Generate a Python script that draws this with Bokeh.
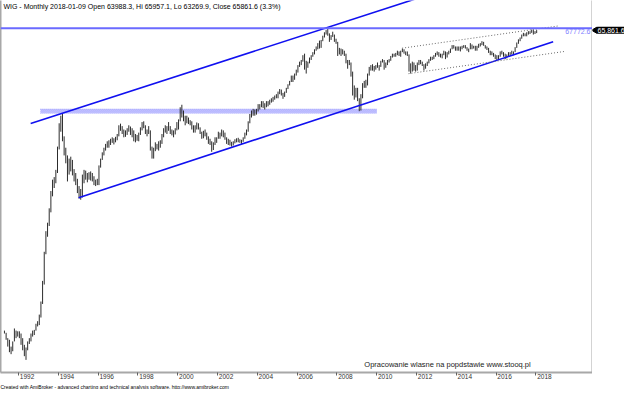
import pandas as pd
from bokeh.plotting import figure
from bokeh.layouts import row
from bokeh.models import (Range1d, FixedTicker, LinearAxis, Label, Span, ColumnDataSource, Title)
from bokeh.embed import file_html
from bokeh.resources import INLINE

# ---------------- data ----------------
first_month = "1991-04"

monthly_high = [
    1000, 970, 900, 880, 800, 860, 1030, 1000, 990,                                    # 1991 Apr-Dec
    990, 960, 900, 820, 790, 860, 900, 960, 1000, 1010, 1100, 1140,                    # 1992
    1250, 1500, 2000, 3000, 4000, 4500, 5500, 7000, 8200, 8500, 9400, 13000,          # 1993
    18000, 20000, 20760, 15000, 12800, 11500, 11000, 11300, 10800, 9500, 9000, 8300,  # 1994
    7500, 7200, 8800, 9400, 9300, 9000, 9100, 9200, 9000, 8600, 8200, 8300,           # 1995
    10000, 11000, 12000, 12800, 13500, 14000, 14200, 14500, 14800, 14600, 14900, 15500,  # 1996
    17500, 17900, 17300, 16500, 16300, 16800, 17500, 17200, 16800, 16300, 15500, 15300,  # 1997
    15800, 17000, 18300, 18500, 17500, 16500, 17300, 16300, 13000, 12800, 13800, 13500,  # 1998
    14000, 14200, 15500, 16800, 17500, 17300, 18300, 17300, 16500, 16300, 16800, 18300,  # 1999
    19000, 22500, 23300, 21500, 20000, 20000, 19500, 18800, 18500, 17500, 17500, 18200,  # 2000
    18000, 17000, 16000, 16200, 16500, 15800, 15000, 14500, 14000, 13800, 14800, 14800,  # 2001
    16000, 15800, 16500, 16300, 15800, 14800, 14500, 14300, 13900, 14000, 14400, 14600,  # 2002
    14700, 14400, 14300, 14800, 15800, 16500, 18500, 20500, 21500, 22000, 21800, 22000,  # 2003
    23500, 23500, 24500, 24500, 23800, 24500, 24500, 25000, 25500, 26000, 26500, 27000,  # 2004
    28000, 29000, 28800, 27500, 28000, 29500, 31000, 32500, 35000, 35000, 36000, 38000,  # 2005
    40500, 42500, 43500, 46500, 47500, 43000, 42500, 45000, 46500, 48500, 50500, 52500,  # 2006
    55000, 57000, 57500, 61000, 64000, 66000, 67772, 63000, 61500, 64500, 62000, 58500,  # 2007
    56000, 51500, 51000, 50500, 49500, 47500, 43500, 43500, 42000, 37000, 30500, 29500,  # 2008
    29500, 25500, 27000, 31500, 32500, 33000, 36000, 39500, 40500, 41000, 40000, 40500,  # 2009
    42000, 40500, 43000, 44000, 43500, 42000, 43500, 44000, 46000, 47500, 47500, 48000,  # 2010
    49500, 49000, 49500, 51000, 50500, 49000, 49000, 47000, 41500, 42500, 42000, 40500,  # 2011
    42000, 43500, 43500, 42500, 41000, 41500, 42500, 44000, 45500, 45500, 46500, 48000,  # 2012
    49000, 48500, 47500, 47500, 49500, 49000, 48500, 49500, 51000, 53500, 53500, 52500,  # 2013
    52500, 52500, 52500, 53000, 53500, 53500, 52000, 51000, 55000, 54000, 53000, 53000,  # 2014
    53000, 54500, 55000, 56500, 56000, 53500, 52500, 51500, 49500, 49000, 48000, 47000,  # 2015
    46500, 46500, 49000, 49500, 48500, 47500, 47000, 48500, 48500, 49500, 49000, 52000,  # 2016
    55500, 58000, 59500, 62000, 63500, 63000, 64000, 65000, 65000, 66500, 66000, 65000,  # 2017
    65957.1,                                                                            # 2018 Jan
]

monthly_low = [
    960, 880, 800, 740, 720, 750, 860, 900, 920,                                        # 1991 Apr-Dec
    900, 820, 760, 700, 665, 760, 830, 860, 920, 940, 1000, 1060,                      # 1992
    1080, 1200, 1450, 1900, 2900, 3700, 4300, 5200, 6500, 7300, 7800, 9000,            # 1993
    12500, 16000, 14000, 11500, 10300, 8000, 8800, 9200, 8700, 8000, 7600, 6800,       # 1994
    6300, 6200, 6400, 7800, 8200, 7900, 8200, 8100, 8000, 7600, 7500, 7600,            # 1995
    7600, 9700, 10800, 11500, 12300, 12800, 12800, 13300, 13700, 13400, 13800, 14200,  # 1996
    15000, 16200, 15500, 14800, 14900, 15300, 16000, 15300, 14800, 14000, 13800, 14100,  # 1997
    14000, 15300, 16300, 16800, 15500, 15000, 15500, 12300, 11000, 11000, 12200, 12500,  # 1998
    12300, 12800, 13500, 14800, 15800, 15500, 16200, 15500, 15200, 14800, 15400, 16300,  # 1999
    16500, 18500, 19500, 18500, 17500, 18000, 17800, 17500, 16500, 15800, 15800, 16500,  # 2000
    16500, 15500, 14500, 14600, 15000, 14300, 13500, 13300, 12100, 12400, 13300, 13700,  # 2001
    14500, 14500, 15000, 14800, 14300, 13500, 13300, 13200, 13000, 13200, 13600, 13800,  # 2002
    13800, 13700, 13500, 13900, 14500, 15200, 16000, 18000, 19500, 20000, 20000, 20300,  # 2003
    21200, 21800, 22500, 22300, 21800, 22500, 22800, 23300, 24000, 24300, 25000, 25500,  # 2004
    25500, 27000, 26500, 25300, 26000, 27500, 29000, 30500, 32000, 32000, 33000, 35000,  # 2005
    36500, 39500, 40500, 42500, 38000, 36000, 39000, 41500, 43500, 45500, 47000, 49500,  # 2006
    50500, 51000, 51500, 56500, 59500, 62000, 61000, 56000, 57500, 60000, 56000, 54500,  # 2007
    46000, 47000, 46000, 47000, 46000, 41500, 38500, 40500, 34500, 26500, 25000, 25800,  # 2008
    24500, 21300, 21500, 25500, 29500, 29500, 30500, 35000, 37500, 37500, 37000, 38000,  # 2009
    39000, 37500, 39500, 42000, 38000, 39000, 40500, 42000, 43000, 45000, 45500, 45500,  # 2010
    46500, 46000, 45500, 48500, 47500, 46500, 46000, 37000, 36000, 37000, 37500, 37000,  # 2011
    37500, 40500, 41000, 40000, 37500, 38500, 40000, 41500, 43000, 43500, 44000, 45500,  # 2012
    46500, 45500, 45000, 44500, 46500, 44000, 45000, 47000, 48000, 50500, 51000, 49500,  # 2013
    49500, 49500, 49000, 50500, 51500, 51000, 49500, 48500, 50500, 50500, 51000, 49500,  # 2014
    49500, 51500, 52500, 53500, 53000, 51000, 50000, 48000, 46500, 46500, 45500, 44000,  # 2015
    43500, 43500, 45500, 47000, 45500, 44000, 44500, 46000, 46500, 47000, 46500, 48500,  # 2016
    51500, 54500, 56500, 58500, 60500, 60500, 60500, 62000, 62500, 63500, 62000, 62500,  # 2017
    63269.9,                                                                            # 2018 Jan
]

# last bar quote (title line)
last_date = "2018-01-09"
last_open, last_high, last_low, last_close, last_change = 63988.3, 65957.1, 63269.9, 65861.6, 3.3

# drawn analysis lines (decimal year, index value)
channel_upper_t = [1992.61, 2012.0]
channel_upper_v = [17930, 102300]
channel_lower_t = [1995.02, 2018.87]
channel_lower_v = [6380, 56030]
dotted_upper_t = [2011.28, 2019.12]
dotted_upper_v = [51260, 69880]
dotted_lower_t = [2011.60, 2019.48]
dotted_lower_v = [35940, 49060]
support_band_t = [1993.10, 2010.01]
support_band_levels = [20760, 21040, 21320, 21600, 21880]
resistance_level = 67772.6

tick_years = list(range(1992, 2019, 2))

# ---------------- main figure ----------------
months = pd.period_range(first_month, periods=len(monthly_high), freq="M")
t_mid = [m.year + (m.month - 0.5) / 12.0 for m in months]
src = ColumnDataSource(dict(t=t_mid, hi=monthly_high, lo=monthly_low))

FONT = "Liberation Sans"
BOTTOM = 15
X0, X1 = 1991.093, 2020.848
yr = Range1d(557.6, 99670)

p = figure(width=592, height=389, x_range=Range1d(X0, X1), y_range=yr,
           y_axis_type="log", output_backend="svg", toolbar_location=None,
           min_border_left=0, min_border_right=0, min_border_top=0, min_border_bottom=BOTTOM)
p.grid.visible = False
p.outline_line_color = None
p.background_fill_color = "white"
p.border_fill_color = "white"

# axis 1: axis line + year tick marks
xa = p.xaxis[0]
xa.ticker = FixedTicker(ticks=tick_years)
xa.major_label_overrides = {y: "" for y in tick_years}
xa.major_label_text_font_size = "0px"
xa.major_label_standoff = 0
xa.axis_line_color = "#a8a8a8"
xa.axis_line_width = 2
xa.major_tick_out = 3
xa.major_tick_in = 0
xa.major_tick_line_color = "#606060"
xa.minor_tick_line_color = None

# axis 2: year labels written just right of each tick mark
label_shift = 0.43
xl = LinearAxis(ticker=FixedTicker(ticks=[y + label_shift for y in tick_years]),
                major_label_overrides={y + label_shift: str(y) for y in tick_years})
xl.axis_line_color = None
xl.major_tick_line_color = None
xl.minor_tick_line_color = None
xl.major_tick_out = 0
xl.major_tick_in = 0
xl.major_label_standoff = -2
xl.major_label_text_font = FONT
xl.major_label_text_font_size = "6.5px"
xl.major_label_text_color = "#333333"
p.add_layout(xl, "below")

ya = p.yaxis[0]
ya.ticker = FixedTicker(ticks=[])
ya.major_label_text_font_size = "0px"
ya.major_tick_line_color = None
ya.minor_tick_line_color = None
ya.axis_line_color = "#a8a8a8"
ya.axis_line_width = 2

ra = LinearAxis(ticker=FixedTicker(ticks=[]))
ra.major_label_text_font_size = "0px"
ra.major_tick_line_color = None
ra.minor_tick_line_color = None
ra.axis_line_color = "#a8a8a8"
ra.axis_line_width = 2
p.add_layout(ra, "right")

# footer
p.add_layout(Title(text="Created with AmiBroker - advanced charting and technical analysis software. http://www.amibroker.com",
                   align="left", text_font=FONT, text_font_size="5px", text_font_style="normal",
                   text_color="black", standoff=0, offset=0), "below")

# support band (dotted, hatched look)
for k, lvl in enumerate(support_band_levels):
    p.line(support_band_t, [lvl, lvl], line_color="#6e6eff", line_width=1,
           line_dash="1 1", line_dash_offset=k % 2)

# resistance level
p.add_layout(Span(location=resistance_level, dimension="width",
                  line_color="#6a6aff", line_width=2))

# price bars
p.segment(x0="t", y0="lo", x1="t", y1="hi", source=src, line_color="#2c2c2c", line_width=1)

# channels
p.line(channel_upper_t, channel_upper_v, line_color="#1010f0", line_width=1.6)
p.line(channel_lower_t, channel_lower_v, line_color="#1010f0", line_width=1.6)
p.line(dotted_upper_t, dotted_upper_v, line_color="#6a6a6a", line_width=1, line_dash="1 2")
p.line(dotted_lower_t, dotted_lower_v, line_color="#6a6a6a", line_width=1, line_dash="1 2")

# texts
title = (f"WIG - Monthly {last_date} Open {last_open}, Hi {last_high}, "
         f"Lo {last_low}, Close {last_close} ({last_change}%)")
p.add_layout(Label(x=1991.24, y=92000, text=title, text_font=FONT, text_font_size="7px",
                   text_color="black", text_baseline="middle"))
p.add_layout(Label(x=X1, y=resistance_level, x_offset=-2, y_offset=-1,
                   text=f"{resistance_level}", text_font=FONT, text_font_size="7px",
                   text_color="#8080ff", text_align="right", text_baseline="top"))
p.add_layout(Label(x=2009.38, y=620, text="Opracowanie wlasne na popdstawie www.stooq.pl",
                   text_font=FONT, text_font_size="7.5px", text_color="#222222",
                   text_baseline="middle"))

# ---------------- price-scale strip with last-close marker ----------------
s = figure(width=32, height=389, x_range=Range1d(0, 32), y_range=yr, y_axis_type="log",
           output_backend="svg", toolbar_location=None,
           min_border_left=0, min_border_right=0, min_border_top=0, min_border_bottom=BOTTOM)
s.axis.visible = False
s.grid.visible = False
s.outline_line_color = None
s.background_fill_color = "white"
s.border_fill_color = "white"
s.scatter(x=[2.5], y=[last_close], marker="triangle", angle=1.5708, size=6,
          fill_color="black", line_color="black")
s.add_layout(Label(x=4, y=last_close, text=f"{last_close:,.1f}", text_font=FONT,
                   text_font_size="7px", text_color="white", text_align="left",
                   text_baseline="middle", background_fill_color="black",
                   padding=1, border_radius=1))

layout = row(p, s, spacing=0)
open("out.html", "w").write(file_html(layout, INLINE))
